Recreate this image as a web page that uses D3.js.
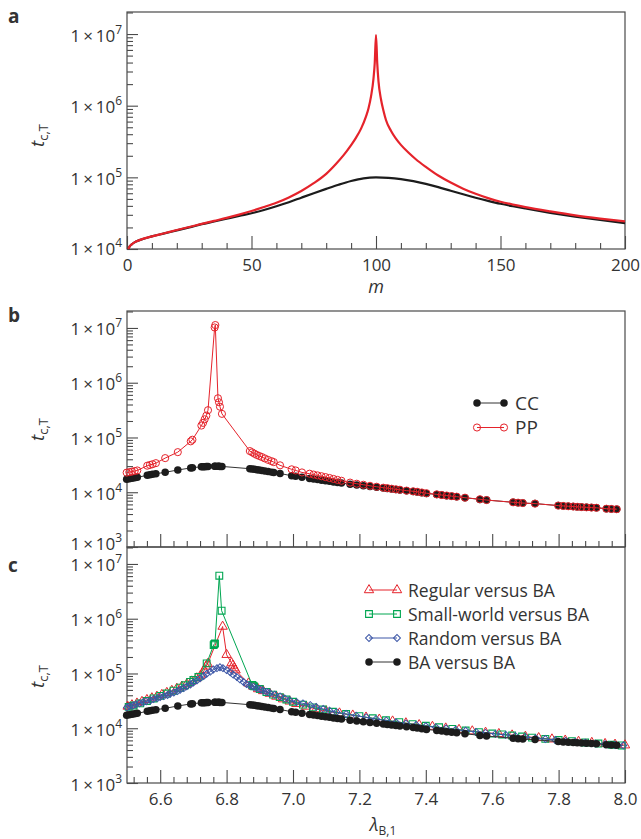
<!DOCTYPE html>
<html>
<head>
<meta charset="utf-8">
<script src="https://cdn.jsdelivr.net/npm/d3@7"></script>
<style>
  body { margin: 0; background: #fff; }
  svg text { font-family: "Open Sans", "Noto Sans", sans-serif; fill: #333; }
</style>
</head>
<body>
<script>
// ---------- Panel a: t_c,T against m ----------
const mCC = [0.5, 1, 2, 3, 5, 10, 15, 20, 25, 30, 35, 40, 45, 50, 55, 60, 65, 70, 75, 80, 85, 90, 95, 100,
             105, 110, 115, 120, 125, 130, 135, 140, 145, 150, 155, 160, 170, 180, 190, 200];
const tcCCa = [1.0e4, 1.08e4, 1.17e4, 1.24e4, 1.33e4, 1.5e4, 1.65e4, 1.82e4, 2.0e4, 2.22e4, 2.42e4, 2.65e4, 2.9e4, 3.15e4, 3.5e4, 3.95e4, 4.5e4, 5.2e4, 6.0e4, 6.9e4, 7.9e4, 8.9e4, 9.7e4, 1.0e5,
               9.85e4, 9.45e4, 8.85e4, 8.1e4, 7.3e4, 6.5e4, 5.8e4, 5.2e4, 4.7e4, 4.28e4, 3.95e4, 3.67e4, 3.2e4, 2.83e4, 2.54e4, 2.3e4];
const mPP = [0.5, 1, 2, 3, 5, 10, 15, 20, 25, 30, 35, 40, 45, 50, 55, 60, 65, 70, 75, 80, 84, 87, 90, 92, 94, 96, 97, 98, 99, 99.5, 100,
             100.5, 101, 102, 103, 104, 106, 108, 110, 113, 116, 120, 125, 130, 135, 140, 145, 150, 155, 160, 170, 180, 190, 200];
const tcPPa = [1.0e4, 1.08e4, 1.17e4, 1.24e4, 1.33e4, 1.5e4, 1.66e4, 1.84e4, 2.03e4, 2.24e4, 2.47e4, 2.72e4, 3.02e4, 3.39e4, 3.85e4, 4.42e4, 5.25e4, 6.46e4, 8.3e4, 1.12e5, 1.55e5, 2.04e5, 2.82e5, 3.59e5, 4.79e5, 7.08e5, 9.2e5, 1.35e6, 2.4e6, 3.98e6, 9.7e6,
               3.89e6, 2.19e6, 1.23e6, 8.51e5, 6.31e5, 4.47e5, 3.47e5, 2.84e5, 2.22e5, 1.79e5, 1.40e5, 1.06e5, 8.45e4, 6.95e4, 5.89e4, 5.13e4, 4.57e4, 4.17e4, 3.85e4, 3.35e4, 2.95e4, 2.66e4, 2.43e4];
const mTicksMajor = [0, 50, 100, 150, 200];

// ---------- Panel b: CC and PP against lambda_B,1 ----------
const lambdaNet = [6.499, 6.507, 6.515, 6.523, 6.531, 6.561, 6.569, 6.577, 6.587, 6.615, 6.653, 6.692, 6.697,
  6.724, 6.729, 6.734, 6.739, 6.744, 6.764, 6.766, 6.774, 6.777, 6.780, 6.786,
  6.870, 6.877, 6.884, 6.891, 6.898, 6.906, 6.915, 6.925, 6.935, 6.942, 6.961, 6.996, 7.008, 7.027,
  7.050, 7.062, 7.074, 7.086, 7.098, 7.110, 7.122, 7.134, 7.146, 7.172, 7.192, 7.212, 7.232, 7.252, 7.272,
  7.284, 7.297, 7.310, 7.322, 7.342, 7.362, 7.374, 7.388, 7.402, 7.433, 7.448, 7.463, 7.478, 7.493, 7.518,
  7.563, 7.583, 7.663, 7.678, 7.692, 7.729, 7.799, 7.814, 7.829, 7.844, 7.856, 7.869, 7.884, 7.899, 7.914,
  7.944, 7.959, 7.975];
const tcCC = [1.72e4, 1.76e4, 1.80e4, 1.83e4, 1.87e4, 2.04e4, 2.08e4, 2.13e4, 2.18e4, 2.31e4, 2.55e4, 2.78e4, 2.81e4,
  2.91e4, 2.92e4, 2.93e4, 2.94e4, 2.95e4, 2.97e4, 2.97e4, 2.97e4, 2.97e4, 2.96e4, 2.96e4,
  2.69e4, 2.66e4, 2.62e4, 2.58e4, 2.54e4, 2.50e4, 2.45e4, 2.39e4, 2.33e4, 2.29e4, 2.20e4, 2.00e4, 1.95e4, 1.87e4,
  1.78e4, 1.74e4, 1.70e4, 1.66e4, 1.62e4, 1.58e4, 1.54e4, 1.50e4, 1.47e4, 1.40e4, 1.35e4, 1.31e4, 1.27e4, 1.23e4, 1.19e4,
  1.17e4, 1.15e4, 1.12e4, 1.10e4, 1.06e4, 1.03e4, 1.01e4, 9.8e3, 9.5e3, 9.1e3, 8.9e3, 8.65e3, 8.45e3, 8.25e3, 7.95e3,
  7.4e3, 7.2e3, 6.55e3, 6.45e3, 6.35e3, 6.2e3, 5.7e3, 5.62e3, 5.55e3, 5.48e3, 5.42e3, 5.36e3, 5.3e3, 5.25e3, 5.2e3,
  5.0e3, 4.95e3, 4.9e3];
const tcPP = [2.28e4, 2.33e4, 2.38e4, 2.44e4, 2.50e4, 3.05e4, 3.15e4, 3.25e4, 3.40e4, 4.20e4, 5.40e4, 8.50e4, 9.10e4,
  1.65e5, 1.85e5, 2.15e5, 2.50e5, 3.15e5, 1.02e7, 1.13e7, 5.20e5, 4.40e5, 3.65e5, 2.70e5,
  5.65e4, 5.35e4, 5.05e4, 4.80e4, 4.60e4, 4.40e4, 4.15e4, 3.90e4, 3.70e4, 3.55e4, 3.10e4, 2.62e4, 2.50e4, 2.30e4,
  2.18e4, 2.10e4, 2.03e4, 1.96e4, 1.89e4, 1.82e4, 1.75e4, 1.68e4, 1.62e4, 1.50e4, 1.43e4, 1.37e4, 1.31e4, 1.26e4, 1.21e4,
  1.19e4, 1.16e4, 1.13e4, 1.11e4, 1.07e4, 1.04e4, 1.02e4, 9.9e3, 9.6e3, 9.15e3, 8.9e3, 8.7e3, 8.5e3, 8.3e3, 7.95e3,
  7.45e3, 7.2e3, 6.55e3, 6.45e3, 6.35e3, 6.2e3, 5.7e3, 5.62e3, 5.55e3, 5.48e3, 5.42e3, 5.36e3, 5.3e3, 5.25e3, 5.2e3,
  5.0e3, 4.95e3, 4.9e3];

// ---------- Panel c: pairs of network types ----------
const lamRegular = [6.502, 6.515, 6.530, 6.545, 6.560, 6.575, 6.590, 6.605, 6.620, 6.635, 6.650, 6.665, 6.680, 6.695, 6.710,
  6.722, 6.733, 6.738, 6.743, 6.788, 6.800, 6.815, 6.819, 6.823, 6.827, 6.866, 6.880, 6.895, 6.910, 6.930, 6.950,
  6.970, 6.990, 7.010, 7.040, 7.070, 7.100, 7.140, 7.180, 7.220, 7.260, 7.300, 7.340, 7.380, 7.420, 7.460, 7.500,
  7.540, 7.580, 7.620, 7.660, 7.700, 7.740, 7.780, 7.820, 7.860, 7.900, 7.940, 7.970, 8.000];
const tcRegular = [2.5e4, 2.65e4, 2.85e4, 3.05e4, 3.3e4, 3.55e4, 3.8e4, 4.1e4, 4.45e4, 4.85e4, 5.3e4, 5.8e4, 6.4e4, 7.2e4, 8.2e4,
  9.3e4, 1.15e5, 1.35e5, 1.5e5, 7.2e5, 2.2e5, 1.55e5, 1.4e5, 1.25e5, 1.15e5, 6.6e4, 5.8e4, 5.2e4, 4.8e4, 4.3e4, 3.8e4,
  3.4e4, 3.1e4, 2.8e4, 2.5e4, 2.25e4, 2.05e4, 1.88e4, 1.72e4, 1.58e4, 1.45e4, 1.34e4, 1.24e4, 1.15e4, 1.07e4, 1.0e4, 9.4e3,
  8.85e3, 8.35e3, 7.9e3, 7.45e3, 7.05e3, 6.65e3, 6.3e3, 6.0e3, 5.7e3, 5.45e3, 5.2e3, 5.05e3, 4.9e3];
const lamSmallWorld = [6.505, 6.520, 6.540, 6.560, 6.580, 6.600, 6.620, 6.640, 6.660, 6.675, 6.690, 6.700, 6.715, 6.740,
  6.761, 6.763, 6.765, 6.778, 6.785, 6.877, 6.880, 6.883, 6.900, 6.920, 6.940, 6.960, 6.980, 7.000, 7.030, 7.060,
  7.090, 7.120, 7.160, 7.200, 7.240, 7.280, 7.320, 7.360, 7.400, 7.440, 7.480, 7.520, 7.560, 7.600, 7.630, 7.660,
  7.690, 7.720, 7.760, 7.800, 7.840, 7.880, 7.920, 7.960, 7.990];
const tcSmallWorld = [2.45e4, 2.6e4, 2.85e4, 3.15e4, 3.5e4, 3.9e4, 4.3e4, 4.85e4, 5.5e4, 6.1e4, 7.0e4, 7.6e4, 8.6e4, 1.53e5,
  3.3e5, 3.45e5, 3.55e5, 6.1e6, 1.4e6, 6.2e4, 6.0e4, 5.8e4, 5.2e4, 4.6e4, 4.1e4, 3.7e4, 3.35e4, 3.05e4, 2.7e4, 2.4e4,
  2.2e4, 2.0e4, 1.82e4, 1.66e4, 1.52e4, 1.4e4, 1.29e4, 1.19e4, 1.11e4, 1.04e4, 9.7e3, 9.1e3, 8.5e3, 8.0e3, 7.7e3, 7.35e3,
  7.05e3, 6.75e3, 6.4e3, 6.1e3, 5.8e3, 5.5e3, 5.25e3, 5.0e3, 4.85e3];
const lamRandom = [6.500, 6.508, 6.518, 6.527, 6.538, 6.549, 6.558, 6.571, 6.580, 6.592, 6.600, 6.611, 6.622, 6.630, 6.641,
  6.652, 6.660, 6.671, 6.680, 6.691, 6.700, 6.711, 6.720, 6.731, 6.740, 6.751, 6.760, 6.771, 6.780, 6.789, 6.800,
  6.811, 6.820, 6.831, 6.840, 6.851, 6.860, 6.870, 6.881, 6.890, 6.902, 6.910, 6.921, 6.930, 6.945, 6.961, 6.975,
  6.990, 7.011, 7.030, 7.052, 7.070, 7.091, 7.110, 7.131, 7.160, 7.190, 7.221, 7.250, 7.281, 7.310, 7.340, 7.371,
  7.400, 7.430, 7.461, 7.490, 7.520, 7.551, 7.580, 7.610, 7.641, 7.670, 7.700, 7.731, 7.760, 7.790, 7.821, 7.850,
  7.880, 7.911, 7.940, 7.970, 7.995];
const tcRandom = [2.4e4, 2.5e4, 2.6e4, 2.72e4, 2.85e4, 2.98e4, 3.1e4, 3.25e4, 3.4e4, 3.55e4, 3.7e4, 3.85e4, 4.05e4, 4.25e4, 4.5e4,
  4.75e4, 5.05e4, 5.4e4, 5.8e4, 6.3e4, 6.85e4, 7.5e4, 8.15e4, 9.0e4, 9.9e4, 1.08e5, 1.18e5, 1.25e5, 1.3e5, 1.25e5, 1.15e5,
  1.05e5, 9.5e4, 8.6e4, 7.8e4, 7.0e4, 6.4e4, 6.0e4, 5.7e4, 5.4e4, 5.1e4, 4.85e4, 4.6e4, 4.4e4, 4.1e4, 3.8e4, 3.5e4,
  3.25e4, 3.0e4, 2.85e4, 2.65e4, 2.45e4, 2.25e4, 2.1e4, 1.97e4, 1.82e4, 1.7e4, 1.58e4, 1.47e4, 1.38e4, 1.29e4, 1.22e4, 1.15e4,
  1.09e4, 1.04e4, 9.9e3, 9.4e3, 9.0e3, 8.6e3, 8.25e3, 7.9e3, 7.55e3, 7.2e3, 6.9e3, 6.6e3, 6.35e3, 6.1e3, 5.85e3, 5.65e3,
  5.45e3, 5.25e3, 5.1e3, 4.95e3, 4.85e3];
// BA versus BA uses the same networks as the CC curve
const lamBA = lambdaNet;
const tcBA = tcCC;

const lambdaTicksMajor = [6.6, 6.8, 7.0, 7.2, 7.4, 7.6, 7.8, 8.0];
const legendB = ["CC", "PP"];
const legendC = ["Regular versus BA", "Small-world versus BA", "Random versus BA", "BA versus BA"];

// ---------- layout ----------
const W = 641, H = 839;
const X0 = 127, X1 = 625;
const AX = "#4a4a4a";
const RED = "#e5232b", GREEN = "#00a651", BLUE = "#3d57a7", BLACK = "#1c1c1c";

const svg = d3.select("body").append("svg").attr("width", W).attr("height", H);

const xA = d3.scaleLinear().domain([0, 200]).range([X0, X1]);
const yA = d3.scaleLog().domain([1e4, 2.03e7]).range([249, 12]);
const xL = d3.scaleLinear().domain([6.5, 8.0]).range([X0, X1]);
const yB = d3.scaleLog().domain([1e3, 2.04e7]).range([547, 311]);
const yC = d3.scaleLog().domain([1e3, 2.04e7]).range([783, 547]);

function frame(y) {
  const [b, t] = y.range();
  svg.append("rect").attr("x", X0).attr("y", t).attr("width", X1 - X0).attr("height", b - t)
    .attr("fill", "none").attr("stroke", AX).attr("stroke-width", 1.2);
}

function styleAxis(g) {
  g.selectAll(".domain").remove();
  g.selectAll("line").attr("stroke", AX).attr("stroke-width", 1.1);
}

// bottomShift: baseline offset of the lowest label (raised where a panel sits directly below)
function yAxis(y, bottomShift) {
  const t = y.ticks();
  const isMajor = v => Math.abs(Math.log10(v) - Math.round(Math.log10(v))) < 1e-6;
  const major = t.filter(isMajor), minor = t.filter(v => !isMajor(v));
  const lowest = d3.min(major);
  const g = svg.append("g").attr("transform", `translate(${X0},0)`);
  g.append("g").call(d3.axisLeft(y).tickValues(minor).tickSize(-6).tickFormat(""));
  g.append("g").call(d3.axisLeft(y).tickValues(major).tickSize(-11).tickFormat(""));
  styleAxis(g);
  const lab = g.selectAll("text.lab").data(major).join("text").attr("class", "lab")
    .attr("x", -5).attr("y", d => y(d) + (d === lowest ? bottomShift : 7.5))
    .attr("text-anchor", "end").attr("font-size", 17);
  lab.append("tspan").text("1\u2009\u00d7\u200910");
  lab.append("tspan").attr("dy", -8).attr("font-size", 12).text(d => Math.round(Math.log10(d)));
}

function xAxis(x, yPos, major, minor, fmt) {
  const g = svg.append("g").attr("transform", `translate(0,${yPos})`);
  g.append("g").call(d3.axisBottom(x).tickValues(minor).tickSize(-6).tickFormat(""));
  const gm = g.append("g").call(d3.axisBottom(x).tickValues(major).tickSize(-13).tickPadding(10)
    .tickFormat(fmt || (() => "")));
  gm.selectAll("text").attr("font-size", 17).attr("fill", "#333")
    .style("font-family", '"Open Sans","Noto Sans",sans-serif');
  styleAxis(g);
}

function yTitle(yStart) {
  const txt = svg.append("text").attr("transform", `translate(44,${yStart}) rotate(-90)`)
    .attr("font-size", 19);
  txt.append("tspan").attr("font-style", "italic").text("t");
  txt.append("tspan").attr("font-size", 13).attr("dy", 4).text("c,T");
}

function panelLetter(s, yPos) {
  svg.append("text").attr("x", 8).attr("y", yPos).attr("font-size", 19).attr("font-weight", "bold")
    .attr("fill", "#1a1a1a").text(s);
}

// ---------- panel a ----------
frame(yA);
yAxis(yA, 6);
xAxis(xA, 249, mTicksMajor, d3.range(10, 200, 10).filter(v => v % 50 !== 0), d3.format("d"));
yTitle(147);
panelLetter("a", 23);
svg.append("text").attr("x", xA(100)).attr("y", 293).attr("text-anchor", "middle")
  .attr("font-size", 18).attr("font-style", "italic").text("m");

const lineA = d3.line().x(d => xA(d[0])).y(d => yA(d[1])).curve(d3.curveMonotoneX);
svg.append("path").datum(mCC.map((m, i) => [m, tcCCa[i]])).attr("d", lineA)
  .attr("fill", "none").attr("stroke", BLACK).attr("stroke-width", 2.2);
svg.append("path").datum(mPP.map((m, i) => [m, tcPPa[i]])).attr("d", lineA)
  .attr("fill", "none").attr("stroke", RED).attr("stroke-width", 2.2);

// ---------- shared lambda ticks ----------
const lamMinor = d3.range(0, 38).map(i => +(6.52 + 0.04 * i).toFixed(2))
  .filter(v => v < 8.0 && !lambdaTicksMajor.some(M => Math.abs(M - v) < 1e-6));

// ---------- panel b ----------
frame(yB);
yAxis(yB, 2.5);
xAxis(xL, 547, lambdaTicksMajor, lamMinor, null);
yTitle(441);
panelLetter("b", 322);

function series(x, y, lams, vals, color, lineWidth, marker) {
  const pts = lams.map((l, i) => [l, vals[i]]);
  const g = svg.append("g");
  g.append("path").datum(pts).attr("d", d3.line().x(d => x(d[0])).y(d => y(d[1])))
    .attr("fill", "none").attr("stroke", color).attr("stroke-width", lineWidth);
  marker(g.selectAll("x").data(pts).join("path"), d => x(d[0]), d => y(d[1]));
}

const filledDot = (sel, fx, fy) => sel.attr("d", d3.symbol(d3.symbolCircle, 44)())
  .attr("transform", d => `translate(${fx(d)},${fy(d)})`).attr("fill", BLACK);
const openCircle = color => (sel, fx, fy) => sel.attr("d", d3.symbol(d3.symbolCircle, 40)())
  .attr("transform", d => `translate(${fx(d)},${fy(d)})`).attr("fill", "none").attr("stroke", color).attr("stroke-width", 1);
const openTriangle = color => (sel, fx, fy) => sel.attr("d", d3.symbol(d3.symbolTriangle, 38)())
  .attr("transform", d => `translate(${fx(d)},${fy(d)})`).attr("fill", "none").attr("stroke", color).attr("stroke-width", 1);
const openSquare = color => (sel, fx, fy) => sel.attr("d", d3.symbol(d3.symbolSquare, 46)())
  .attr("transform", d => `translate(${fx(d)},${fy(d)})`).attr("fill", "none").attr("stroke", color).attr("stroke-width", 1.1);
const openDiamond = color => (sel, fx, fy) => sel.attr("d", d3.symbol(d3.symbolSquare, 24)())
  .attr("transform", d => `translate(${fx(d)},${fy(d)}) rotate(45)`).attr("fill", "none").attr("stroke", color).attr("stroke-width", 1);

series(xL, yB, lambdaNet, tcCC, "#333", 1, filledDot);
series(xL, yB, lambdaNet, tcPP, RED, 1, openCircle(RED));

// legend b
const legB = [{c: "#333", m: filledDot}, {c: RED, m: openCircle(RED)}];
legendB.forEach((name, i) => {
  const yy = 403 + i * 24.5;
  const g = svg.append("g");
  g.append("line").attr("x1", 477).attr("x2", 504).attr("y1", yy).attr("y2", yy)
    .attr("stroke", legB[i].c).attr("stroke-width", 1);
  legB[i].m(g.selectAll("x").data([477, 504]).join("path"), d => d, () => yy);
  g.append("text").attr("x", 515).attr("y", yy + 6.5).attr("font-size", 19).text(name);
});

// ---------- panel c ----------
frame(yC);
yAxis(yC, 8);
xAxis(xL, 783, lambdaTicksMajor, lamMinor, d3.format(".1f"));
yTitle(688);
panelLetter("c", 572);
const lamTitle = svg.append("text").attr("x", 383).attr("y", 831).attr("text-anchor", "middle").attr("font-size", 18);
lamTitle.append("tspan").attr("font-style", "italic").text("\u03bb");
lamTitle.append("tspan").attr("font-size", 12).attr("dy", 4).text("B,1");

series(xL, yC, lamRegular, tcRegular, RED, 1, openTriangle(RED));
series(xL, yC, lamSmallWorld, tcSmallWorld, GREEN, 1, openSquare(GREEN));
series(xL, yC, lamRandom, tcRandom, BLUE, 1, openDiamond(BLUE));
series(xL, yC, lamBA, tcBA, "#333", 1, filledDot);

// legend c
const legC = [{c: RED, m: openTriangle(RED)}, {c: GREEN, m: openSquare(GREEN)},
              {c: BLUE, m: openDiamond(BLUE)}, {c: "#333", m: filledDot}];
legendC.forEach((name, i) => {
  const yy = 590 + i * 24;
  const g = svg.append("g");
  g.append("line").attr("x1", 369).attr("x2", 397).attr("y1", yy).attr("y2", yy)
    .attr("stroke", legC[i].c).attr("stroke-width", 1);
  legC[i].m(g.selectAll("x").data([369, 397]).join("path"), d => d, () => yy);
  g.append("text").attr("x", 408).attr("y", yy + 6.5).attr("font-size", 17.5).text(name);
});
</script>
</body>
</html>
